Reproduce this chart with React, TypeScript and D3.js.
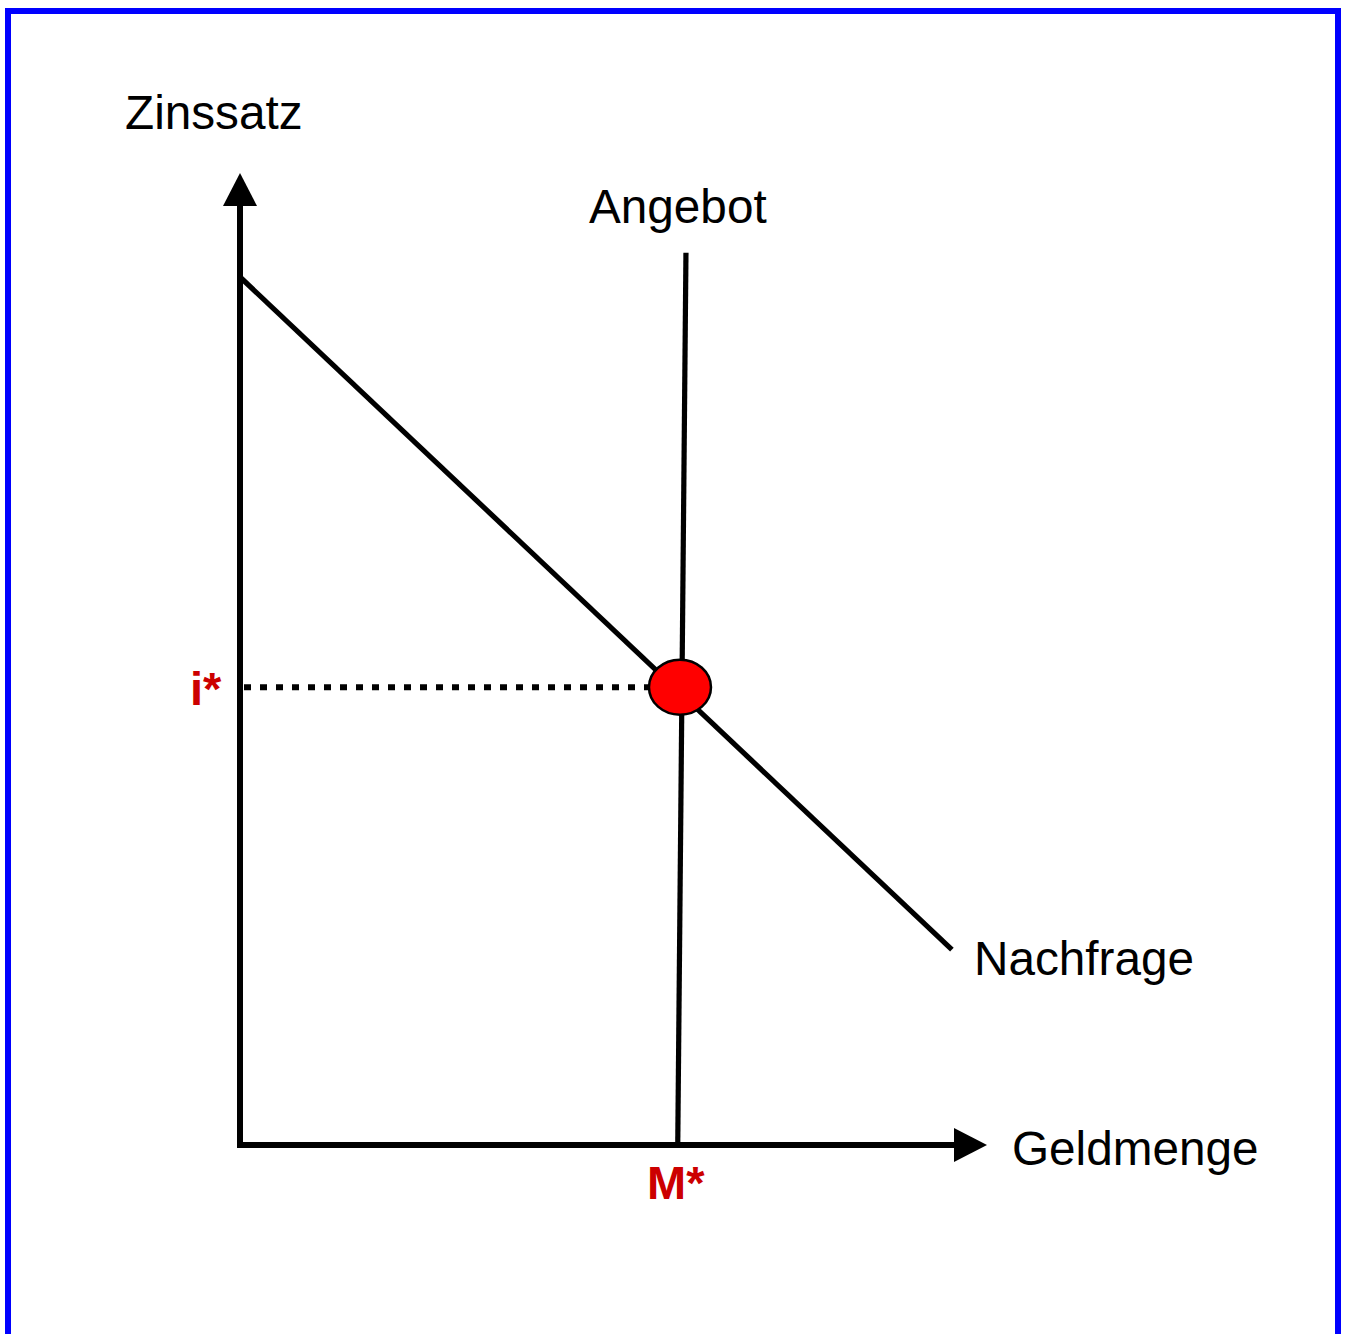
import React from "react";
import * as d3 from "d3";

// Data (in abstract chart units, 0..100 on both axes)
const demandCurve: [number, number][] = [
  [0, 89.3],
  [95.3, 20.1],
];
const supplyCurve: [number, number][] = [
  [59.7, 91.8],
  [58.6, 0],
];
const equilibrium = { x: 58.9, y: 47.1 };
const axisLabels = { x: "Geldmenge", y: "Zinssatz" };
const curveLabels = { supply: "Angebot", demand: "Nachfrage" };
const eqLabels = { rate: "i*", money: "M*" };

const W = 1346;
const H = 1334;

export default function App() {
  const x = d3.scaleLinear().domain([0, 100]).range([240, 987]);
  const y = d3.scaleLinear().domain([0, 100]).range([1145, 173]);
  const line = d3
    .line<[number, number]>()
    .x((d) => x(d[0]))
    .y((d) => y(d[1]));

  const font = "'Liberation Sans', Arial, Helvetica, sans-serif";
  const x0 = x(0);
  const y0 = y(0);
  const xTip = x(100);
  const yTip = y(100);
  const ah = 33; // arrow head length
  const aw = 17; // arrow half width

  const ex = x(equilibrium.x);
  const ey = y(equilibrium.y);

  return (
    <svg
      width={W}
      height={H}
      style={{ position: "absolute", left: 0, top: 0, display: "block", background: "#fff" }}
    >
      <rect x={8} y={11} width={1330} height={1340} fill="#fff" stroke="#0000ff" strokeWidth={6} />

      {/* demand */}
      <path d={line(demandCurve) || ""} fill="none" stroke="#000" strokeWidth={5.2} />
      {/* supply */}
      <path d={line(supplyCurve) || ""} fill="none" stroke="#000" strokeWidth={5.2} />

      {/* axes */}
      <line x1={x0} y1={y0 + 3} x2={x0} y2={yTip + ah - 1} stroke="#000" strokeWidth={6} />
      <path d={`M${x0},${yTip} L${x0 - aw},${yTip + ah} L${x0 + aw},${yTip + ah} Z`} fill="#000" />
      <line x1={x0 - 3} y1={y0} x2={xTip - ah + 1} y2={y0} stroke="#000" strokeWidth={6} />
      <path d={`M${xTip},${y0} L${xTip - ah},${y0 - aw} L${xTip - ah},${y0 + aw} Z`} fill="#000" />

      {/* dotted guide */}
      <line
        x1={x0 + 4}
        y1={ey}
        x2={ex - 31}
        y2={ey}
        stroke="#000"
        strokeWidth={6}
        strokeDasharray="7 9"
      />

      {/* equilibrium */}
      <ellipse cx={ex} cy={ey} rx={31} ry={27.5} fill="#ff0000" stroke="#000" strokeWidth={2.5} />

      {/* labels */}
      <g fontFamily={font} fontSize={47.7} fill="#000">
        <text x={125} y={129}>{axisLabels.y}</text>
        <text x={589} y={223}>{curveLabels.supply}</text>
        <text x={974} y={975}>{curveLabels.demand}</text>
        <text x={1012} y={1165}>{axisLabels.x}</text>
      </g>
      <g fontFamily={font} fontSize={47} fontWeight="bold" fill="#cc0000">
        <text x={190} y={705}>{eqLabels.rate}</text>
        <text x={647} y={1199}>{eqLabels.money}</text>
      </g>
    </svg>
  );
}
